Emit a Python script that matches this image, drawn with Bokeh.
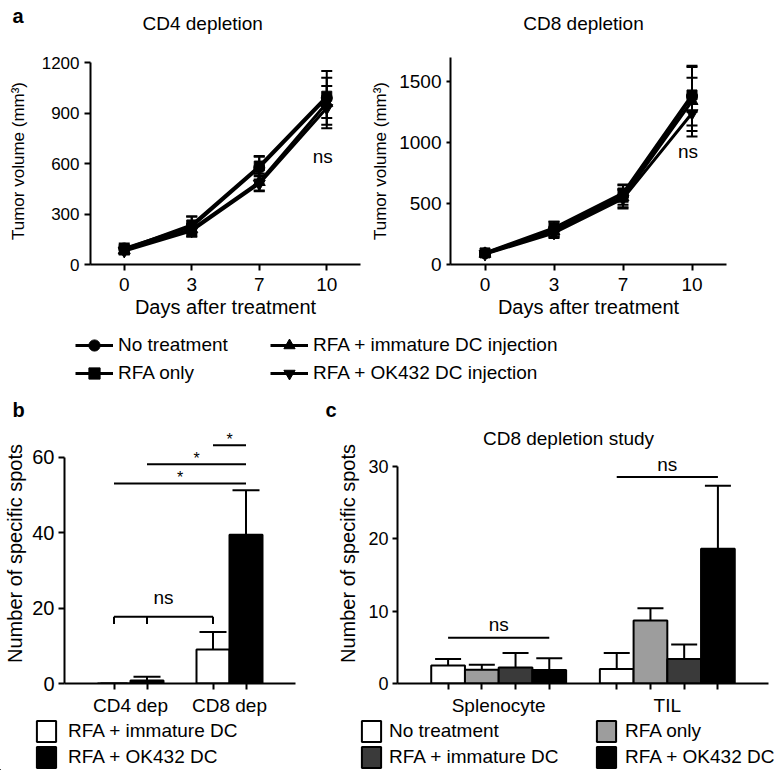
from bokeh.plotting import figure
from bokeh.models import (Range1d, FactorRange, FixedTicker, Whisker, TeeHead,
                          Legend, LegendItem, Label, ColumnDataSource, LinearAxis)
from bokeh.layouts import column, row
from bokeh.embed import file_html
from bokeh.resources import INLINE
from bokeh.core.properties import value

FONT = "Liberation Sans"

# ---------------- panel a data ----------------
days = ["0", "3", "7", "10"]
groups_a = ["No treatment", "RFA only", "RFA + immature DC injection", "RFA + OK432 DC injection"]
markers_a = ["circle", "square", "triangle", "inverted_triangle"]

cd4_no_treatment = [95, 225, 575, 990]
cd4_rfa_only = [90, 235, 585, 1000]
cd4_rfa_immature = [85, 210, 490, 960]
cd4_rfa_ok432 = [80, 200, 480, 930]
cd4_no_treatment_sem = [30, 60, 70, 160]
cd4_rfa_only_sem = [25, 50, 55, 60]
cd4_rfa_immature_sem = [20, 30, 50, 150]
cd4_rfa_ok432_sem = [20, 30, 45, 60]

cd8_no_treatment = [92, 290, 560, 1380]
cd8_rfa_only = [95, 300, 585, 1390]
cd8_rfa_immature = [88, 270, 550, 1340]
cd8_rfa_ok432 = [85, 258, 540, 1240]
cd8_no_treatment_sem = [15, 60, 90, 240]
cd8_rfa_only_sem = [15, 50, 70, 140]
cd8_rfa_immature_sem = [12, 40, 60, 290]
cd8_rfa_ok432_sem = [12, 40, 80, 145]

cd4_ticks = [0, 300, 600, 900, 1200]
cd8_ticks = [0, 500, 1000, 1500]
cd4_ns_y = 643
cd8_ns_y = 928

# ---------------- panel b data ----------------
b_groups = ["CD4 dep", "CD8 dep"]
b_series = ["RFA + immature DC", "RFA + OK432 DC"]
b_immature = [0.0, 9.0]
b_ok432 = [0.8, 39.5]
b_immature_sem = [0.0, 4.7]
b_ok432_sem = [1.0, 11.8]
b_ticks = [0, 20, 40, 60]
b_stars = [(("CD8 dep", 0), ("CD8 dep", 1), 63.2, "*"),
           (("CD4 dep", 1), ("CD8 dep", 1), 58.2, "*"),
           (("CD4 dep", 0), ("CD8 dep", 1), 53.1, "*")]
b_ns = ([("CD4 dep", 0), ("CD4 dep", 1), ("CD8 dep", 0)], 17.7, "ns")

# ---------------- panel c data ----------------
c_groups = ["Splenocyte", "TIL"]
c_series = ["No treatment", "RFA only", "RFA + immature DC", "RFA + OK432 DC"]
c_no_treatment = [2.5, 2.0]
c_rfa_only = [1.9, 8.7]
c_rfa_immature = [2.2, 3.4]
c_rfa_ok432 = [1.85, 18.6]
c_no_treatment_sem = [0.9, 2.2]
c_rfa_only_sem = [0.7, 1.7]
c_rfa_immature_sem = [2.0, 2.0]
c_rfa_ok432_sem = [1.65, 8.7]
c_ticks = [0, 10, 20, 30]
c_ns = [(("Splenocyte", 0), ("Splenocyte", 3), 6.3, "ns"),
        (("TIL", 0), ("TIL", 3), 28.5, "ns")]

c_colors = ["white", "#9d9d9d", "#3a3a3a", "black"]
b_colors = ["white", "black"]

GP = 1.0  # group padding of the factor ranges


def syn(groups, n_series, key):
    g, j = key
    return groups.index(g) * (n_series + GP) + j + 0.5


def base_fig(width, height, x_range, y_range, mbl, mbr, mbt, mbb, x_axis_type="auto"):
    p = figure(width=width, height=height, x_range=x_range, y_range=y_range,
               output_backend="svg", toolbar_location=None, x_axis_type=x_axis_type,
               min_border_left=mbl, min_border_right=mbr,
               min_border_top=mbt, min_border_bottom=mbb)
    p.outline_line_color = None
    p.grid.visible = False
    return p


def blank_fig(width, height):
    p = figure(width=width, height=height, x_range=Range1d(0, 1), y_range=Range1d(0, 1),
               x_axis_type=None, y_axis_type=None, output_backend="svg",
               toolbar_location=None, min_border=0)
    p.outline_line_color = None
    return p


def style_axis(ax, tick_fs, label_fs, tick_out=6, standoff=4, label_standoff=6):
    ax.axis_line_width = 2
    ax.axis_line_color = "black"
    ax.major_tick_line_width = 2
    ax.major_tick_line_color = "black"
    ax.major_tick_out = tick_out
    ax.major_tick_in = 0
    ax.minor_tick_line_color = None
    ax.major_label_text_font = FONT
    ax.major_label_text_font_size = tick_fs
    ax.major_label_text_color = "black"
    ax.major_label_standoff = standoff
    ax.axis_label_text_font = FONT
    ax.axis_label_text_font_size = label_fs
    ax.axis_label_text_font_style = "normal"
    ax.axis_label_text_color = "black"
    ax.axis_label_standoff = label_standoff


def screen_label(p, txt, x, y, fs="19px", bold=False, align="left"):
    p.add_layout(Label(x=x, y=y, x_units="screen", y_units="screen", text=txt,
                       text_font=FONT, text_font_size=fs,
                       text_font_style="bold" if bold else "normal",
                       text_align=align, text_baseline="middle", text_color="black"))


def note(p, x, y, txt, fs="19px", dy=0, dx=0):
    p.text(x=x, y=y, text=[txt] * len(x), text_align="center", text_baseline="middle",
           x_offset=dx, y_offset=dy, text_font=value(FONT), text_font_size=fs,
           text_color="black")


# ---------------- top strip: panel letter and titles of a ----------------
top = blank_fig(780, 40)
screen_label(top, "a", 12, 25, fs="20px", bold=True)
screen_label(top, "CD4 depletion", 142, 16.6)
screen_label(top, "CD8 depletion", 583, 16.6, align="center")


def panel_a(vals_list, sem_list, ticks, yend, ybound, width, mbl, mbr,
            tick_fs, ytick_out, ns_y, ylab_standoff):
    p = base_fig(width, 290, FactorRange(factors=days), Range1d(0, yend), mbl, mbr, 17, 66)
    sizes = [11, 10, 12, 12]
    for vals, sems, m, s in zip(vals_list, sem_list, markers_a, sizes):
        src = ColumnDataSource(dict(x=days, y=vals,
                                    upper=[v + e for v, e in zip(vals, sems)],
                                    lower=[v - e for v, e in zip(vals, sems)]))
        p.add_layout(Whisker(base="x", upper="upper", lower="lower", source=src,
                             line_width=2, line_color="black",
                             upper_head=TeeHead(size=11, line_width=2, line_color="black"),
                             lower_head=TeeHead(size=11, line_width=2, line_color="black")))
        p.line("x", "y", source=src, line_width=3, color="black")
        p.scatter("x", "y", source=src, marker=m, size=s, color="black")
    p.yaxis.ticker = FixedTicker(ticks=ticks)
    p.yaxis.bounds = (0, ybound)
    style_axis(p.xaxis[0], "19px", "20px", tick_out=6, standoff=7, label_standoff=2)
    style_axis(p.yaxis[0], tick_fs, "17px", tick_out=ytick_out, standoff=5,
               label_standoff=ylab_standoff)
    p.xaxis.axis_label = "Days after treatment"
    p.yaxis.axis_label = "Tumor volume (mm³)"
    note(p, [days[-1]], [ns_y], "ns", dx=-4)
    return p


a1 = panel_a([cd4_no_treatment, cd4_rfa_only, cd4_rfa_immature, cd4_rfa_ok432],
             [cd4_no_treatment_sem, cd4_rfa_only_sem, cd4_rfa_immature_sem, cd4_rfa_ok432_sem],
             cd4_ticks, 1230, 1200, 368, 90, 8, "17px", 6, cd4_ns_y, 11)
a2 = panel_a([cd8_no_treatment, cd8_rfa_only, cd8_rfa_immature, cd8_rfa_ok432],
             [cd8_no_treatment_sem, cd8_rfa_only_sem, cd8_rfa_immature_sem, cd8_rfa_ok432_sem],
             cd8_ticks, 1697, 1697, 412, 77, 54, "19px", 4, cd8_ns_y, 6)


def make_legend(items, loc, gw, gh, standoff, fs="19px"):
    return Legend(items=items, location=loc, orientation="vertical",
                  glyph_width=gw, glyph_height=gh, label_height=gh,
                  label_standoff=standoff, spacing=0, padding=0, margin=0,
                  border_line_color=None, background_fill_alpha=0,
                  label_text_font=FONT, label_text_font_size=fs,
                  label_text_color="black")


# ---------------- legend of panel a, letters b and c ----------------
la = blank_fig(780, 92)
la_items = []
for name, m in zip(groups_a, markers_a):
    rl = la.line(x=[-10, -9], y=[-10, -9], line_width=3, color="black")
    rs = la.scatter(x=[-10], y=[-10], marker=m, size=10, color="black")
    la_items.append(LegendItem(label=name, renderers=[rl, rs]))
la.add_layout(make_legend(la_items[:2], (75, 35), 38, 28, 5), "center")
la.add_layout(make_legend(la_items[2:], (270, 35), 38, 28, 5), "center")
screen_label(la, "b", 12, 13, fs="20px", bold=True)
screen_label(la, "c", 325, 13, fs="20px", bold=True)


def group_axis(p, groups, n_series):
    bar_pos = [syn(groups, n_series, (g, j)) for g in groups for j in range(n_series)]
    grp_pos = [sum(syn(groups, n_series, (g, j)) for j in range(n_series)) / n_series
               for g in groups]
    ax = LinearAxis(ticker=FixedTicker(ticks=grp_pos, minor_ticks=bar_pos),
                    major_label_overrides={pos: g for pos, g in zip(grp_pos, groups)})
    p.add_layout(ax, "below")
    style_axis(ax, "19px", "19px", tick_out=0, standoff=5, label_standoff=0)
    ax.minor_tick_line_color = "black"
    ax.minor_tick_line_width = 2
    ax.minor_tick_out = 6
    ax.minor_tick_in = 0
    return ax


# ---------------- panel b ----------------
b_factors = [(g, s) for g in b_groups for s in b_series]
b_xr = FactorRange(factors=b_factors, factor_padding=0, group_padding=GP,
                   range_padding=1.0, range_padding_units="absolute")
pb = base_fig(330, 296, b_xr, Range1d(0, 69.0), 64, 35, 1, 34, x_axis_type=None)
for j, (vals, sems) in enumerate([(b_immature, b_immature_sem), (b_ok432, b_ok432_sem)]):
    xs = [(g, b_series[j]) for g in b_groups]
    src = ColumnDataSource(dict(x=xs, top=vals, upper=[v + e for v, e in zip(vals, sems)]))
    pb.add_layout(Whisker(base="x", upper="upper", lower="top", source=src,
                          line_width=2, line_color="black", lower_head=None,
                          upper_head=TeeHead(size=27, line_width=2, line_color="black")))
    pb.vbar(x="x", top="top", source=src, width=1.0, fill_color=b_colors[j],
            line_color="black", line_width=2)
for a, b, y, lab in b_stars:
    x0 = syn(b_groups, len(b_series), a)
    x1 = syn(b_groups, len(b_series), b)
    pb.segment(x0=[x0], y0=[y], x1=[x1], y1=[y], line_width=2, color="black")
    note(pb, [(x0 + x1) / 2], [y], lab, fs="16px", dy=-6)
keys, yb, lab = b_ns
xk = [syn(b_groups, len(b_series), k) for k in keys]
pb.segment(x0=[xk[0]], y0=[yb], x1=[xk[-1]], y1=[yb], line_width=2, color="black")
pb.segment(x0=xk, y0=[yb] * 3, x1=xk, y1=[yb - 1.9] * 3, line_width=2, color="black")
note(pb, [(xk[0] + xk[-1]) / 2], [yb], lab, dy=-19)
pb.yaxis.ticker = FixedTicker(ticks=b_ticks)
pb.yaxis.bounds = (0, 60)
style_axis(pb.yaxis[0], "20px", "20px", tick_out=6, standoff=4, label_standoff=3)
pb.yaxis.axis_label = "Number of specific spots"
group_axis(pb, b_groups, len(b_series))

# ---------------- panel c ----------------
c_factors = [(g, s) for g in c_groups for s in c_series]
c_xr = FactorRange(factors=c_factors, factor_padding=0, group_padding=GP,
                   range_padding=1.0, range_padding_units="absolute")
pc = base_fig(450, 296, c_xr, Range1d(0, 35.9), 67, 12, 1, 34, x_axis_type=None)
c_vals = [c_no_treatment, c_rfa_only, c_rfa_immature, c_rfa_ok432]
c_sems = [c_no_treatment_sem, c_rfa_only_sem, c_rfa_immature_sem, c_rfa_ok432_sem]
for j, (vals, sems) in enumerate(zip(c_vals, c_sems)):
    xs = [(g, c_series[j]) for g in c_groups]
    src = ColumnDataSource(dict(x=xs, top=vals, upper=[v + e for v, e in zip(vals, sems)]))
    pc.add_layout(Whisker(base="x", upper="upper", lower="top", source=src,
                          line_width=2, line_color="black", lower_head=None,
                          upper_head=TeeHead(size=26, line_width=2, line_color="black")))
    pc.vbar(x="x", top="top", source=src, width=1.0, fill_color=c_colors[j],
            line_color="black", line_width=2)
for a, b, y, lab in c_ns:
    x0 = syn(c_groups, len(c_series), a)
    x1 = syn(c_groups, len(c_series), b)
    pc.segment(x0=[x0], y0=[y], x1=[x1], y1=[y], line_width=2, color="black")
    note(pc, [(x0 + x1) / 2], [y], lab, dy=-13)
pc.yaxis.ticker = FixedTicker(ticks=c_ticks)
pc.yaxis.bounds = (0, 30)
style_axis(pc.yaxis[0], "18px", "20px", tick_out=5, standoff=4, label_standoff=6)
pc.yaxis.axis_label = "Number of specific spots"
group_axis(pc, c_groups, len(c_series))
screen_label(pc, "CD8 depletion study", 171, 244.6, align="center")

# ---------------- legends for panels b and c ----------------
lb = blank_fig(780, 52)
b_items = []
for name, col in zip(b_series, b_colors):
    r = lb.vbar(x=[-10], top=[-10], width=1, fill_color=col, line_color="black", line_width=2)
    b_items.append(LegendItem(label=name, renderers=[r]))
c_items = []
for name, col in zip(c_series, c_colors):
    r = lb.vbar(x=[-10], top=[-10], width=1, fill_color=col, line_color="black", line_width=2)
    c_items.append(LegendItem(label=name, renderers=[r]))
lb.add_layout(make_legend(b_items, (34, 0), 24, 26, 10), "center")
lb.add_layout(make_legend([c_items[0], c_items[2]], (359, 0), 24, 26, 6), "center")
lb.add_layout(make_legend([c_items[1], c_items[3]], (594, 0), 24, 26, 7), "center")

layout = column(top, row(a1, a2), la, row(pb, pc), lb)
open("out.html", "w").write(file_html(layout, INLINE))
